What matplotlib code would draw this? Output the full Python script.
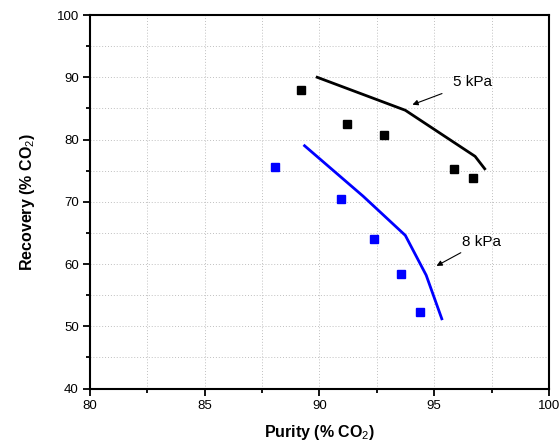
import numpy as np
import matplotlib
matplotlib.use('Agg')
import matplotlib.pyplot as plt
from matplotlib.ticker import MultipleLocator

plt.rcParams['font.family'] = ['Liberation Sans', 'DejaVu Sans']
plt.rcParams['mathtext.fontset'] = 'custom'
plt.rcParams['mathtext.rm'] = 'Liberation Sans'
plt.rcParams['mathtext.bf'] = 'Liberation Sans:bold'

# 实验点
purity_5 = [89.2, 91.2, 92.8, 95.85, 96.7]
recovery_5 = [87.9, 82.5, 80.8, 75.3, 73.8]
purity_8 = [88.05, 90.92, 92.37, 93.55, 94.38]
recovery_8 = [75.6, 70.4, 64.0, 58.4, 52.3]

# 模拟曲线
sim_purity_5 = [89.9, 93.74, 96.78, 97.2]
sim_recovery_5 = [90.0, 84.7, 77.3, 75.3]
sim_purity_8 = [89.35, 91.9, 93.74, 94.65, 95.33]
sim_recovery_8 = [79.0, 70.9, 64.6, 58.2, 51.2]

fig = plt.figure(figsize=(5.6, 4.46), dpi=100)
ax = fig.add_axes([0.1607, 0.1289, 0.8196, 0.8374])

ax.plot(sim_purity_5, sim_recovery_5, color='black', lw=2)
ax.plot(sim_purity_8, sim_recovery_8, color='#0000ff', lw=2)
ax.plot(purity_5, recovery_5, 's', color='black', ms=6, ls='none')
ax.plot(purity_8, recovery_8, 's', color='#0000ff', ms=6, ls='none')

ax.annotate('5 kPa', xy=(94.05, 85.6), xytext=(95.8, 89.2), fontsize=11,
            va='center', ha='left',
            arrowprops=dict(arrowstyle='-|>', color='black', lw=0.8,
                            mutation_scale=8, shrinkA=6, shrinkB=0))
ax.annotate('8 kPa', xy=(95.1, 59.7), xytext=(96.2, 63.6), fontsize=11,
            va='center', ha='left',
            arrowprops=dict(arrowstyle='-|>', color='black', lw=0.8,
                            mutation_scale=8, shrinkA=2, shrinkB=0))

ax.set_xlim(80, 100)
ax.set_ylim(40, 100)
ax.xaxis.set_major_locator(MultipleLocator(5))
ax.xaxis.set_minor_locator(MultipleLocator(2.5))
ax.yaxis.set_major_locator(MultipleLocator(10))
ax.yaxis.set_minor_locator(MultipleLocator(5))
ax.grid(True, which='both', color='#c0c0c0', lw=0.7, dashes=(1, 2))
ax.set_axisbelow(True)
ax.tick_params(which='both', direction='out', top=False, right=False, labelsize=9.5)
ax.tick_params(which='major', length=5, width=1.3, pad=3)
ax.tick_params(which='minor', length=3, width=1.3)
for s in ax.spines.values():
    s.set_linewidth(1.5)

ax.set_xlabel(r'Purity (% CO$_{\mathrm{2}}$)', fontsize=11.5, fontweight='bold', labelpad=8)
ax.set_ylabel(r'Recovery (% CO$_{\mathrm{2}}$)', fontsize=11.5, fontweight='bold', labelpad=14)

fig.savefig('out.png', dpi=100)
